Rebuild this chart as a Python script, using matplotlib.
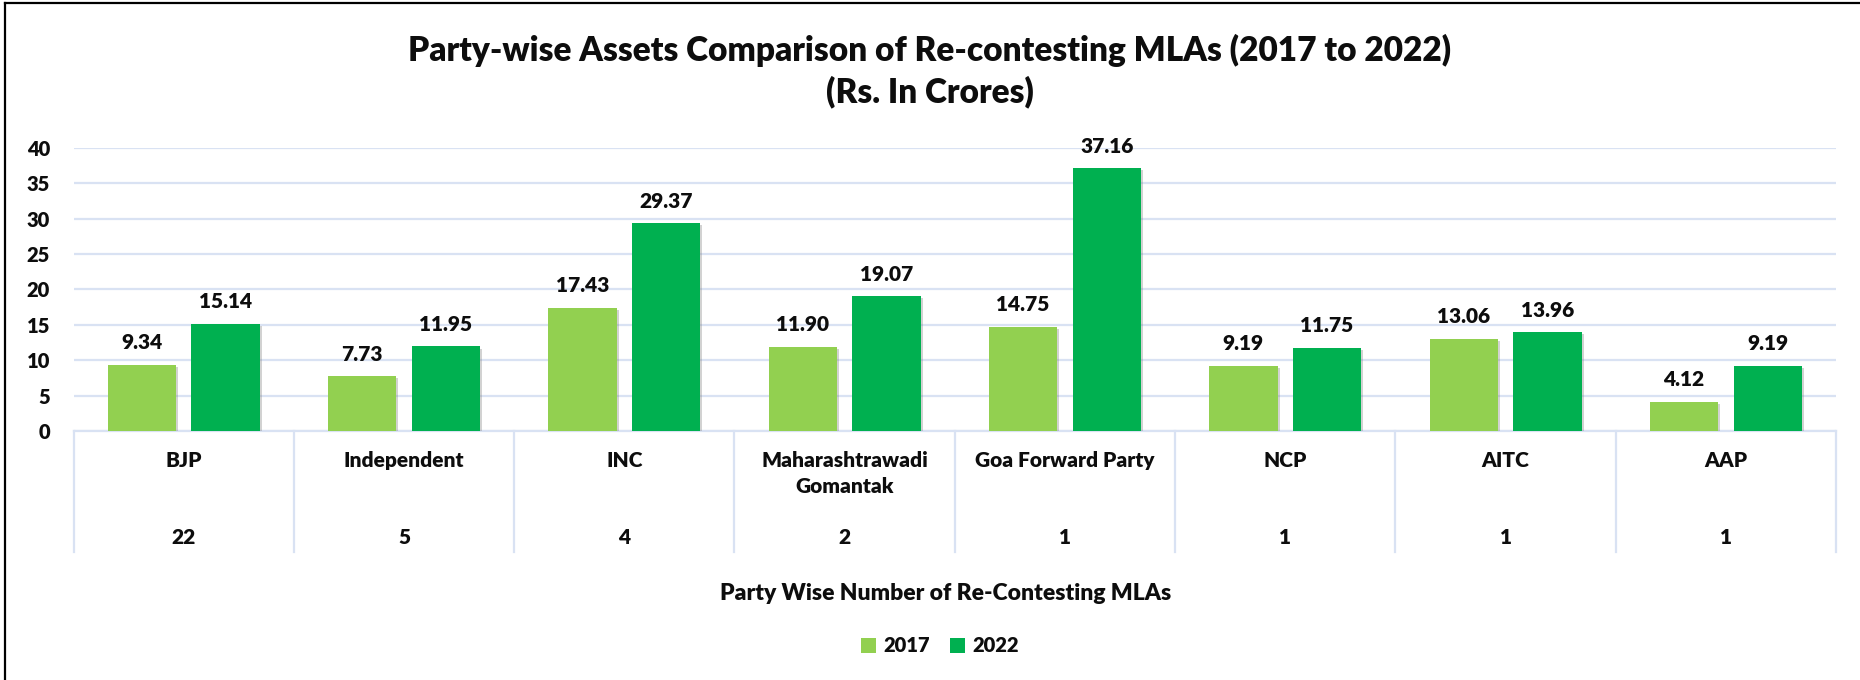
import matplotlib
matplotlib.use("Agg")
import matplotlib.pyplot as plt
from matplotlib.patches import Patch
from matplotlib.lines import Line2D
import matplotlib.patheffects as pe
import numpy as np

parties = ["BJP", "Independent", "INC", "Maharashtrawadi\nGomantak", "Goa Forward Party",
           "NCP", "AITC", "AAP"]
counts = ["22", "5", "4", "2", "1", "1", "1", "1"]
assets_2017 = [9.34, 7.73, 17.43, 11.90, 14.75, 9.19, 13.06, 4.12]
assets_2022 = [15.14, 11.95, 29.37, 19.07, 37.16, 11.75, 13.96, 9.19]
series_names = ["2017", "2022"]
yticks = [0, 5, 10, 15, 20, 25, 30, 35, 40]

C17 = "#92D050"
C22 = "#00B050"
GRID = "#D9E2F3"
FONT = "Lato"
WT = "heavy"
TXT = "#0D0D0D"

W, H = 1860, 680
fig = plt.figure(figsize=(W / 100, H / 100), dpi=100)
fig.patch.set_facecolor("white")

ax_l, ax_r, ax_t, ax_b = 73.5, 1836, 148, 431
ax = fig.add_axes([ax_l / W, 1 - ax_b / H, (ax_r - ax_l) / W, (ax_b - ax_t) / H])

x = np.arange(len(parties))
bw = 0.31
off = 0.19
shadow = [pe.SimplePatchShadow(offset=(1.5, -1.5), shadow_rgbFace="#808080", alpha=0.35), pe.Normal()]
b1 = ax.bar(x - off, assets_2017, bw, color=C17, zorder=3, path_effects=shadow)
b2 = ax.bar(x + off, assets_2022, bw, color=C22, zorder=3, path_effects=shadow)

for bars, vals in ((b1, assets_2017), (b2, assets_2022)):
    for r, v in zip(bars, vals):
        ax.annotate(f"{v:.2f}", (r.get_x() + r.get_width() / 2, v), xytext=(0, 9),
                    textcoords="offset points", ha="center", va="bottom",
                    fontsize=15, fontweight=WT, family=FONT, color=TXT)

ax.set_xlim(-0.5, len(parties) - 0.5)
ax.set_ylim(0, 40)
ax.set_yticks(yticks)
ax.set_yticklabels([str(t) for t in yticks], fontsize=14.5, fontweight=WT, family=FONT, color=TXT)
ax.tick_params(axis="y", length=0, pad=17)
ax.set_xticks([])
ax.grid(axis="y", color=GRID, linewidth=1.6, zorder=0)
ax.set_axisbelow(True)
for s in ax.spines.values():
    s.set_visible(False)

# category table below axis
ah = ax_b - ax_t
def yfrac(py):
    return (ax_b - py) / ah

trans = ax.get_xaxis_transform()
ax.add_line(Line2D([-0.5, len(parties) - 0.5], [0, 0], transform=trans, color=GRID,
                   linewidth=1.6, clip_on=False, zorder=2))
for b in np.arange(-0.5, len(parties), 1.0):
    ax.add_line(Line2D([b, b], [0, yfrac(552)], transform=trans, color=GRID,
                       linewidth=1.6, clip_on=False, zorder=2))
for i, (p, c) in enumerate(zip(parties, counts)):
    ax.text(i, yfrac(451), p, transform=trans, ha="center", va="top", fontsize=15,
            fontweight=WT, family=FONT, linespacing=1.45, color=TXT)
    ax.text(i, yfrac(537), c, transform=trans, ha="center", va="center", fontsize=15,
            fontweight=WT, family=FONT, color=TXT)

fig.text(946 / W, 1 - 594 / H, "Party Wise Number of Re-Contesting MLAs", ha="center",
         va="center", fontsize=16.5, fontweight=WT, family=FONT, color=TXT)

fig.text(930 / W, 1 - 50 / H, "Party-wise Assets Comparison of Re-contesting MLAs (2017 to 2022)",
         ha="center", va="center", fontsize=24, fontweight=WT, family=FONT, color=TXT)
fig.text(930 / W, 1 - 92 / H, "(Rs. In Crores)",
         ha="center", va="center", fontsize=24, fontweight=WT, family=FONT, color=TXT)

handles = [Patch(facecolor=C17, label=series_names[0]), Patch(facecolor=C22, label=series_names[1])]
leg = fig.legend(handles=handles, loc="center", bbox_to_anchor=(940 / W, 1 - 646 / H), ncol=2,
                 frameon=False, handlelength=0.75, handleheight=0.75, handletextpad=0.35,
                 columnspacing=1.0, prop={"family": FONT, "weight": WT, "size": 14.5})
for t in leg.get_texts():
    t.set_color(TXT)

# outer frame (left and top visible)
fig.add_artist(Line2D([5 / W, 5 / W], [0, 1 - 3 / H], transform=fig.transFigure, color="black", linewidth=1.6))
fig.add_artist(Line2D([5 / W, 1], [1 - 3 / H, 1 - 3 / H], transform=fig.transFigure, color="black", linewidth=1.6))

fig.savefig("out.png", dpi=100, facecolor="white")
